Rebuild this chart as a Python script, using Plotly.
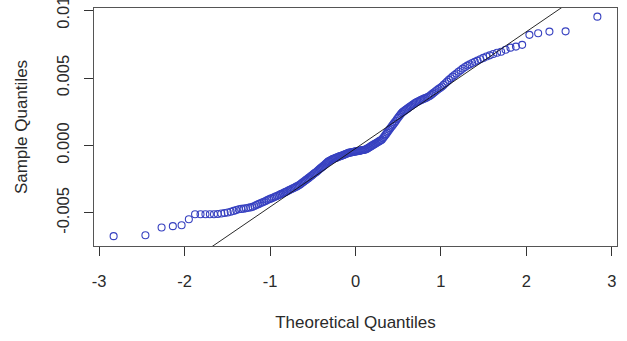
import plotly.graph_objects as go
from statistics import NormalDist

# Sample quantiles (sorted)
sample_quantiles = [
    -0.00672, -0.00665, -0.00608, -0.00598, -0.00591, -0.00547, -0.00510, -0.00510, -0.00510, -0.00510,
    -0.00510, -0.00508, -0.00504, -0.00500, -0.00497, -0.00491, -0.00485, -0.00479, -0.00473, -0.00470,
    -0.00468, -0.00465, -0.00462, -0.00459, -0.00455, -0.00448, -0.00441, -0.00435, -0.00429, -0.00423,
    -0.00417, -0.00411, -0.00404, -0.00399, -0.00394, -0.00389, -0.00384, -0.00379, -0.00374, -0.00369,
    -0.00364, -0.00359, -0.00354, -0.00349, -0.00344, -0.00339, -0.00334, -0.00329, -0.00324, -0.00319,
    -0.00315, -0.00310, -0.00305, -0.00300, -0.00295, -0.00289, -0.00282, -0.00275, -0.00269, -0.00262,
    -0.00255, -0.00248, -0.00242, -0.00235, -0.00228, -0.00222, -0.00215, -0.00208, -0.00202, -0.00196,
    -0.00189, -0.00182, -0.00175, -0.00168, -0.00162, -0.00155, -0.00148, -0.00141, -0.00134, -0.00127,
    -0.00120, -0.00116, -0.00111, -0.00106, -0.00102, -0.00099, -0.00096, -0.00093, -0.00090, -0.00087,
    -0.00084, -0.00081, -0.00078, -0.00076, -0.00073, -0.00070, -0.00067, -0.00064, -0.00061, -0.00058,
    -0.00055, -0.00053, -0.00052, -0.00050, -0.00049, -0.00047, -0.00046, -0.00044, -0.00043, -0.00042,
    -0.00040, -0.00039, -0.00037, -0.00036, -0.00034, -0.00033, -0.00032, -0.00030, -0.00026, -0.00022,
    -0.00017, -0.00013, -0.00008, -0.00003, 0.00001, 0.00006, 0.00011, 0.00015, 0.00020, 0.00024,
    0.00029, 0.00034, 0.00038, 0.00043, 0.00053, 0.00063, 0.00074, 0.00084, 0.00095, 0.00106,
    0.00116, 0.00127, 0.00138, 0.00149, 0.00160, 0.00171, 0.00182, 0.00194, 0.00205, 0.00216,
    0.00227, 0.00238, 0.00247, 0.00254, 0.00260, 0.00267, 0.00273, 0.00280, 0.00287, 0.00293,
    0.00300, 0.00306, 0.00313, 0.00319, 0.00324, 0.00328, 0.00333, 0.00338, 0.00342, 0.00347,
    0.00351, 0.00356, 0.00361, 0.00367, 0.00375, 0.00384, 0.00393, 0.00402, 0.00411, 0.00420,
    0.00428, 0.00437, 0.00449, 0.00461, 0.00473, 0.00486, 0.00498, 0.00510, 0.00522, 0.00534,
    0.00546, 0.00558, 0.00570, 0.00582, 0.00592, 0.00601, 0.00611, 0.00620, 0.00629, 0.00639,
    0.00649, 0.00659, 0.00668, 0.00678, 0.00687, 0.00695, 0.00710, 0.00725, 0.00733, 0.00746,
    0.00820, 0.00832, 0.00844, 0.00846, 0.00955,
]

# Reference line drawn on the chart (intercept and slope)
ref_line_intercept = -0.000224
ref_line_slope = 0.00433

x_tick_values = [-3, -2, -1, 0, 1, 2, 3]
x_tick_labels = ["-3", "-2", "-1", "0", "1", "2", "3"]
y_tick_values = [-0.005, 0.0, 0.005, 0.010]
y_tick_labels = ["-0.005", "0.000", "0.005", "0.010"]

x_title = "Theoretical Quantiles"
y_title = "Sample Quantiles"

# Theoretical normal quantiles, as qqnorm does (ppoints with a = 0.5)
n = len(sample_quantiles)
nd = NormalDist()
theoretical = [nd.inv_cdf((i - 0.5) / n) for i in range(1, n + 1)]

x_range = [-3.06, 3.06]
y_range = [-0.00745, 0.01019]

font_family = "Liberation Sans, Arial, Helvetica, sans-serif"
text_color = "#2a2a2a"
point_color = "rgb(55,65,192)"

fig = go.Figure()
fig.add_trace(go.Scatter(
    x=theoretical, y=sample_quantiles, mode="markers",
    marker=dict(symbol="circle-open", size=7, color=point_color,
                line=dict(width=1.1, color=point_color)),
    showlegend=False, hoverinfo="skip",
))
fig.add_trace(go.Scatter(
    x=x_range, y=[ref_line_intercept + ref_line_slope * x for x in x_range], mode="lines",
    line=dict(color="#111111", width=0.9),
    showlegend=False, hoverinfo="skip",
))

fig.update_layout(
    width=627, height=341, autosize=False,
    margin=dict(l=94, r=10, t=8, b=95),
    paper_bgcolor="white", plot_bgcolor="white",
    font=dict(family=font_family, size=16.5, color=text_color),
    xaxis=dict(
        range=x_range, tickvals=x_tick_values, ticktext=x_tick_labels,
        automargin=False,
        showgrid=False, zeroline=False,
        showline=True, mirror=True, linecolor="#555555", linewidth=1,
        ticks="outside", ticklen=9, tickwidth=1, tickcolor="#333333",
        ticklabelstandoff=11,
        title=dict(text=x_title, font=dict(size=17), standoff=27),
    ),
    yaxis=dict(
        range=y_range, tickvals=y_tick_values, ticktext=y_tick_labels,
        tickangle=-90, ticklabeloverflow="allow", automargin=False,
        showgrid=False, zeroline=False,
        showline=True, mirror=True, linecolor="#555555", linewidth=1,
        ticks="outside", ticklen=9, tickwidth=1, tickcolor="#333333",
        ticklabelstandoff=8,
        title=dict(text=y_title, font=dict(size=17), standoff=22),
    ),
)

fig.write_html("out.html")
